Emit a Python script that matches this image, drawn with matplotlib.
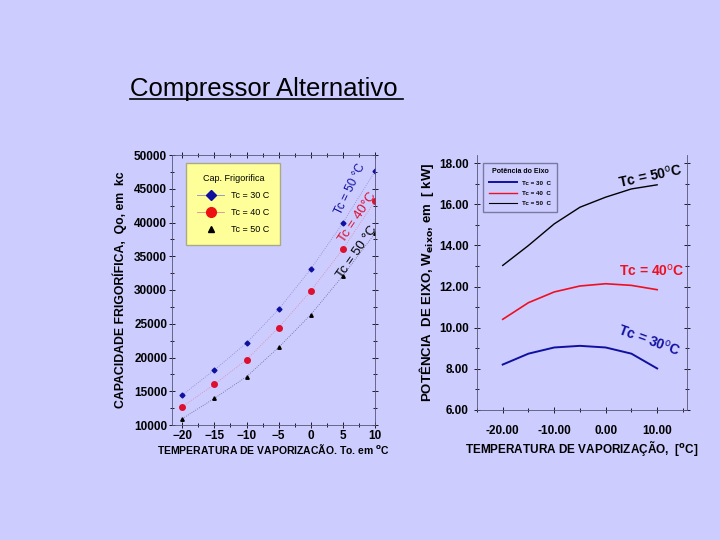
import matplotlib
matplotlib.use("Agg")
import matplotlib.pyplot as plt
from matplotlib.lines import Line2D
from matplotlib.ticker import MultipleLocator

plt.rcParams['font.family'] = ['Liberation Sans', 'DejaVu Sans']

# ---- data: left chart (capacity) ----
temps = [-20, -15, -10, -5, 0, 5, 10]
cap_tc30 = [14450, 18150, 22150, 27130, 33100, 39950, 47600]
cap_tc40 = [12700, 16020, 19680, 24420, 29850, 36070, 43180]
cap_tc50 = [10940, 13950, 17160, 21500, 26340, 32120, 38400]

# ---- data: right chart (shaft power) ----
pow_tc30 = [8.21, 8.74, 9.04, 9.12, 9.04, 8.74, 8.02]
pow_tc40 = [10.41, 11.22, 11.74, 12.03, 12.14, 12.06, 11.85]
pow_tc50 = [13.03, 14.0, 15.05, 15.86, 16.35, 16.75, 16.95]

BG = '#CCCCFF'
fig = plt.figure(figsize=(7.2, 5.4), dpi=100)
fig.patch.set_facecolor(BG)

# Title
fig.text(130/720, 1-89/540, 'Compressor Alternativo', fontsize=18.5,
         ha='left', va='center', color='black')
fig.add_artist(Line2D([130/720, 403/720], [1-99/540, 1-99/540], color='black', lw=1.2))

# ---------------- Left axes ----------------
ax1 = fig.add_axes([172/720, 1-425/540, (375-172)/720, (425-155)/540])
ax1.set_facecolor(BG)
ax1.plot(temps, cap_tc30, color='#8888cc', lw=0.6, ls=':', marker='D', ms=2.5,
         mfc='#1010a0', mec='#1010a0')
ax1.plot(temps, cap_tc40, color='#dd8899', lw=0.6, ls=':', marker='o', ms=4,
         mfc='#dd1030', mec='#dd1030')
ax1.plot(temps, cap_tc50, color='#666688', lw=0.6, ls=':', marker='^', ms=2.5,
         mfc='black', mec='black')
ax1.set_xlim(-21.6, 10)
ax1.set_ylim(10000, 50000)
ax1.set_xticks(temps)
ax1.set_yticks(range(10000, 50001, 5000))
ax1.xaxis.set_minor_locator(MultipleLocator(2.5))
ax1.yaxis.set_minor_locator(MultipleLocator(2500))
ax1.tick_params(which='both', direction='inout', top=True, right=True, labelsize=8.5,
                colors='black', length=5, width=0.6, pad=1)
ax1.tick_params(which='minor', length=3)
for lab in ax1.get_xticklabels() + ax1.get_yticklabels():
    lab.set_fontweight('bold')
for s in ax1.spines.values():
    s.set_color('#555577')
    s.set_linewidth(0.6)
ax1.set_xlabel('TEMPERATURA DE VAPORIZACÃO. To. em $^{\\mathbf{o}}$C', fontsize=7.5,
               fontweight='bold', labelpad=0)
ax1.set_ylabel('CAPACIDADE FRIGORÍFICA,  Qo, em  kc', fontsize=8.8,
               fontweight='bold', labelpad=5)

# legend box
lh = [Line2D([], [], color='#8888cc', lw=0.6, marker='D', ms=5, mfc='#1010a0', mec='#1010a0'),
      Line2D([], [], color='#dd8899', lw=0.6, marker='o', ms=7, mfc='#ee1010', mec='#ee1010'),
      Line2D([], [], color='none', marker='^', ms=4, mfc='black', mec='black')]
leg1 = ax1.legend(lh, ['Tc = 30 C', 'Tc = 40 C', 'Tc = 50 C'], title='Cap. Frigorifica',
                  loc='upper left', bbox_to_anchor=(0.07, 0.97), fontsize=6.5,
                  title_fontsize=6.5, frameon=True, fancybox=False,
                  borderpad=1.2, labelspacing=0.9, handlelength=3.0, borderaxespad=0)
leg1.get_frame().set_facecolor('#FFFF99')
leg1.get_frame().set_edgecolor('#AAAA88')
leg1.get_frame().set_alpha(1)

ax1.text(6.2, 45000, 'Tc = 50 °C', color='#1010a0', fontsize=8.5, rotation=64,
         ha='center', va='center')
ax1.text(7.35, 40800, 'Tc = 40°C', color='#dd1030', fontsize=9.5, rotation=56,
         ha='center', va='center')
ax1.text(7.2, 35600, 'Tc = 50 °C', color='black', fontsize=9.5, rotation=55,
         ha='center', va='center')

# ---------------- Right axes ----------------
ax2 = fig.add_axes([477/720, 1-410/540, (687-477)/720, (410-155)/540])
ax2.set_facecolor(BG)
ax2.plot(temps, pow_tc30, color='#1010a0', lw=1.4)
ax2.plot(temps, pow_tc40, color='#ee1020', lw=1.2)
ax2.plot(temps, pow_tc50, color='black', lw=1.0)
ax2.set_xlim(-25, 15.8)
ax2.set_ylim(6, 18.4)
ax2.set_xticks([-20, -10, 0, 10])
ax2.set_xticklabels(['-20.00', '-10.00', '0.00', '10.00'])
ax2.set_yticks([6, 8, 10, 12, 14, 16, 18])
ax2.set_yticklabels(['6.00', '8.00', '10.00', '12.00', '14.00', '16.00', '18.00'])
ax2.xaxis.set_minor_locator(MultipleLocator(5))
ax2.yaxis.set_minor_locator(MultipleLocator(1))
ax2.tick_params(which='both', direction='inout', right=True, labelsize=8.5,
                length=5, width=0.6)
ax2.tick_params(axis='x', which='major', pad=8)
ax2.tick_params(which='minor', length=3)
for lab in ax2.get_xticklabels() + ax2.get_yticklabels():
    lab.set_fontweight('bold')
ax2.spines['top'].set_visible(False)
for k in ['left', 'right', 'bottom']:
    ax2.spines[k].set_color('#555577')
    ax2.spines[k].set_linewidth(0.6)
ax2.set_xlabel('TEMPERATURA DE VAPORIZAÇÃO,  [$^{\\mathbf{o}}$C]', fontsize=8.5,
               fontweight='bold', labelpad=1)
ax2.set_ylabel('POTÊNCIA  DE EIXO, W$_{\\mathbf{eixo}}$, em  [ kW]', fontsize=9.5,
               fontweight='bold', labelpad=2)

lh2 = [Line2D([], [], color='#1010a0', lw=1.4),
       Line2D([], [], color='#ee1020', lw=1.0),
       Line2D([], [], color='black', lw=0.8)]
leg2 = ax2.legend(lh2, ['Tc = 30  C', 'Tc = 40  C', 'Tc = 50  C'], title='Potência do Eixo',
                  loc='upper left', bbox_to_anchor=(0.03, 0.97), fontsize=4.5,
                  title_fontsize=5, frameon=True, fancybox=False, borderpad=0.9,
                  labelspacing=0.8, handlelength=4.5, borderaxespad=0)
leg2.get_frame().set_facecolor(BG)
leg2.get_frame().set_edgecolor('#666688')
leg2.get_title().set_fontweight('bold')
for t in leg2.get_texts():
    t.set_fontweight('bold')

ax2.text(8.8, 17.4, 'Tc = 50$^{\\mathrm{o}}$C', color='black', fontsize=10,
         fontweight='bold', rotation=12, ha='center', va='center')
ax2.text(9.0, 12.8, 'Tc = 40$^{\\mathrm{o}}$C', color='#ee1020', fontsize=10,
         fontweight='bold', ha='center', va='center')
ax2.text(8.5, 9.4, 'Tc = 30$^{\\mathrm{o}}$C', color='#1010a0', fontsize=10,
         fontweight='bold', rotation=-20, ha='center', va='center')

fig.savefig('out.png', dpi=100, facecolor=BG)
